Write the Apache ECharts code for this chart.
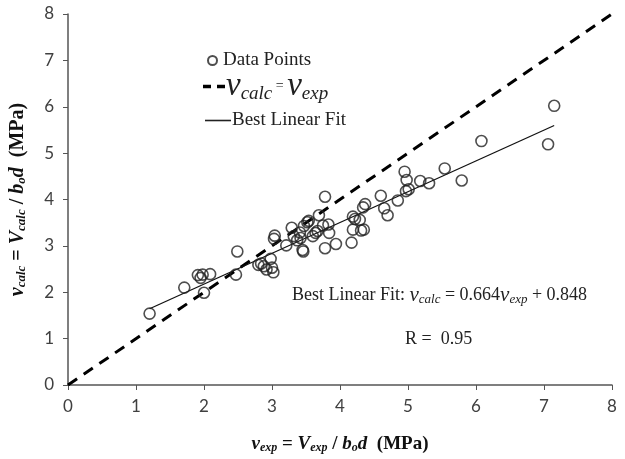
<!DOCTYPE html>
<html><head><meta charset="utf-8">
<script src="https://cdn.jsdelivr.net/npm/echarts@6/dist/echarts.min.js"></script>
<style>html,body{margin:0;padding:0;background:#fff}#c{width:625px;height:459px}</style>
</head><body><div id="c"></div>
<script>
const xExp = [1.20,1.71,1.91,1.95,1.98,2.00,2.09,2.47,2.49,2.80,2.84,2.88,2.92,2.98,3.00,3.02,3.03,3.04,3.21,3.29,3.32,3.37,3.41,3.42,3.45,3.46,3.47,3.52,3.54,3.60,3.64,3.67,3.69,3.75,3.78,3.78,3.83,3.84,3.94,4.17,4.19,4.19,4.22,4.29,4.31,4.35,4.34,4.37,4.60,4.65,4.70,4.85,4.95,4.98,4.97,5.01,5.18,5.31,5.54,5.79,6.08,7.06,7.15];
const vCalc = [1.54,2.10,2.37,2.31,2.38,1.99,2.39,2.38,2.88,2.59,2.62,2.56,2.49,2.72,2.53,2.43,3.15,3.22,3.01,3.39,3.21,3.12,3.29,3.17,2.91,2.88,3.43,3.51,3.54,3.21,3.28,3.32,3.66,3.44,4.06,2.95,3.46,3.28,3.04,3.07,3.35,3.63,3.58,3.56,3.33,3.35,3.83,3.90,4.08,3.81,3.66,3.98,4.60,4.42,4.18,4.22,4.40,4.35,4.67,4.41,5.26,5.19,6.02];
const equalityLine = [[0,0],[8,8]];
const fitSlope = 0.664, fitIntercept = 0.848;
const fitRange = [1.20, 7.15];
const axisTicks = [0,1,2,3,4,5,6,7,8];
const rValue = '0.95';

const points = xExp.map((x,i)=>[x, vCalc[i]]);
const fitLine = fitRange.map(x=>[x, +(fitSlope*x+fitIntercept).toFixed(4)]);

const serif = 'Liberation Serif';
const sans = 'Lato';
const chart = echarts.init(document.getElementById('c'));
chart.setOption({
  animation:false,
  grid:{left:67,right:13,top:14,bottom:68},
  xAxis:{type:'value',min:0,max:8,interval:1,
    axisLine:{lineStyle:{color:'#555',width:1.5}},
    axisTick:{length:5,lineStyle:{color:'#555'}},
    splitLine:{show:false},
    axisLabel:{color:'#404040',fontFamily:sans,fontSize:17,margin:13},
    name:'{v|v}{s|exp}{t| = }{v|V}{s|exp}{t| / }{b|b}{s|o}{b|d}{t|  (MPa)}',
    nameLocation:'middle',nameGap:50,
    nameTextStyle:{rich:{
      v:{fontFamily:serif,fontStyle:'italic',fontWeight:'bold',fontSize:19,color:'#111'},
      b:{fontFamily:serif,fontStyle:'italic',fontWeight:'bold',fontSize:19,color:'#111'},
      s:{fontFamily:serif,fontStyle:'italic',fontWeight:'bold',fontSize:12,color:'#111',verticalAlign:'bottom',padding:[6,0,0,0]},
      t:{fontFamily:serif,fontWeight:'bold',fontSize:19,color:'#111'}}}
  },
  yAxis:{type:'value',min:0,max:8,interval:1,
    axisLine:{show:true,lineStyle:{color:'#555',width:1.5}},
    axisTick:{show:true,length:5,lineStyle:{color:'#555'}},
    splitLine:{show:false},
    axisLabel:{color:'#404040',fontFamily:sans,fontSize:17,margin:14},
    name:'{v|v}{s|calc}{t| = }{v|V}{s|calc}{t| / }{v|b}{s|o}{v|d}{t|  (MPa)}',
    nameLocation:'middle',nameGap:40,nameRotate:90,
    nameTextStyle:{rich:{
      v:{fontFamily:serif,fontStyle:'italic',fontWeight:'bold',fontSize:20,color:'#111'},
      s:{fontFamily:serif,fontStyle:'italic',fontWeight:'bold',fontSize:13,color:'#111',verticalAlign:'bottom',padding:[6,0,0,0]},
      t:{fontFamily:serif,fontWeight:'bold',fontSize:20,color:'#111'}}}
  },
  legend:[
    {data:[{name:'Data Points',icon:'circle'}],left:202,top:46,itemWidth:9,itemHeight:9,itemGap:0,
      textStyle:{fontFamily:serif,fontSize:19,color:'#222',padding:[0,0,0,1]}},
    {data:[{name:'eq',icon:'path://M0,0h8v3.5h-8z M14,0h8v3.5h-8z'}],left:198,top:65,itemWidth:22,itemHeight:4,itemGap:0,
      formatter:()=>'{v|v}{s|calc}{t| = }{v|v}{s|exp}',
      textStyle:{padding:[0,0,0,-4],rich:{
        v:{fontFamily:serif,fontStyle:'italic',fontSize:33,color:'#222'},
        s:{fontFamily:serif,fontStyle:'italic',fontSize:19,color:'#222',verticalAlign:'bottom',padding:[12,0,0,0]},
        t:{fontFamily:serif,fontSize:14,color:'#222'}}}},
    {data:[{name:'Best Linear Fit',icon:'rect'}],left:200,top:106,itemWidth:26,itemHeight:1.6,itemGap:0,
      textStyle:{fontFamily:serif,fontSize:19,color:'#222',padding:[0,0,0,-4]}}
  ],
  series:[
    {name:'eq',type:'line',data:equalityLine,symbol:'none',
      itemStyle:{color:'#000'},
      lineStyle:{color:'#000',width:3,type:[11,8]},z:1},
    {name:'Best Linear Fit',type:'line',data:fitLine,symbol:'none',
      itemStyle:{color:'#222'},
      lineStyle:{color:'#111',width:1.3},z:2},
    {name:'Data Points',type:'scatter',data:points,symbol:'circle',symbolSize:11,
      itemStyle:{color:'rgba(255,255,255,0)',borderColor:'#222',borderWidth:1.6},z:3}
  ],
  graphic:[
    {type:'text',left:292,top:285,style:{
      text:'{t|Best Linear Fit: }{v|v}{s|calc}{t| = 0.664}{v|v}{s|exp}{t| + 0.848}',
      rich:{t:{fontFamily:serif,fontSize:18,fill:'#222'},
        v:{fontFamily:serif,fontStyle:'italic',fontSize:21,fill:'#222'},
        s:{fontFamily:serif,fontStyle:'italic',fontSize:13,fill:'#222',verticalAlign:'bottom',padding:[7,0,0,0]}}}},
    {type:'text',left:405,top:330,style:{text:'R =  '+rValue,fontFamily:serif,fontSize:18,fill:'#222'}}
  ]
});
</script></body></html>
